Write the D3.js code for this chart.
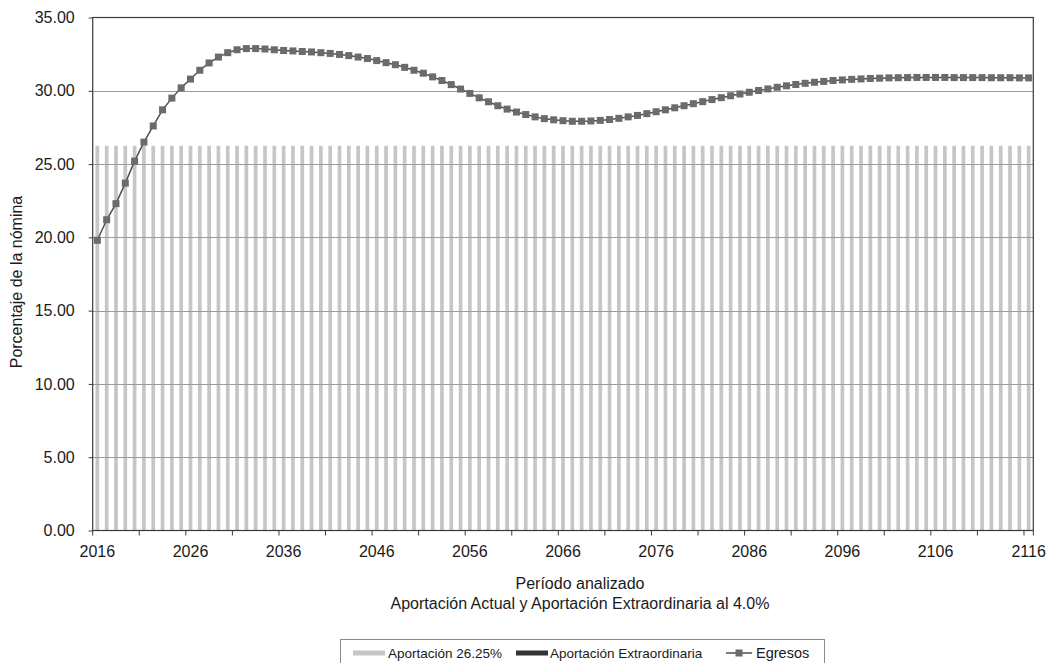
<!DOCTYPE html>
<html>
<head>
<meta charset="utf-8">
<script src="https://cdn.jsdelivr.net/npm/d3@7"></script>
<style>
  html, body { margin: 0; padding: 0; background: #ffffff; }
  svg { display: block; font-family: "Liberation Sans", Arial, sans-serif; }
</style>
</head>
<body>
<svg id="chart" width="1048" height="663"></svg>
<script>
// ---------- DATA ----------
const years = d3.range(2016, 2117);               // categories 2016 … 2116
const xTickLabels = [2016, 2026, 2036, 2046, 2056, 2066, 2076, 2086, 2096, 2106, 2116];
const yTickValues = [0, 5, 10, 15, 20, 25, 30, 35];

const aportacion = [
  26.25,26.25,26.25,26.25,26.25,26.25,26.25,26.25,26.25,26.25,
  26.25,26.25,26.25,26.25,26.25,26.25,26.25,26.25,26.25,26.25,
  26.25,26.25,26.25,26.25,26.25,26.25,26.25,26.25,26.25,26.25,
  26.25,26.25,26.25,26.25,26.25,26.25,26.25,26.25,26.25,26.25,
  26.25,26.25,26.25,26.25,26.25,26.25,26.25,26.25,26.25,26.25,
  26.25,26.25,26.25,26.25,26.25,26.25,26.25,26.25,26.25,26.25,
  26.25,26.25,26.25,26.25,26.25,26.25,26.25,26.25,26.25,26.25,
  26.25,26.25,26.25,26.25,26.25,26.25,26.25,26.25,26.25,26.25,
  26.25,26.25,26.25,26.25,26.25,26.25,26.25,26.25,26.25,26.25,
  26.25,26.25,26.25,26.25,26.25,26.25,26.25,26.25,26.25,26.25,
  26.25
];
const extraordinaria = [
  0,0,0,0,0,0,0,0,0,0, 0,0,0,0,0,0,0,0,0,0,
  0,0,0,0,0,0,0,0,0,0, 0,0,0,0,0,0,0,0,0,0,
  0,0,0,0,0,0,0,0,0,0, 0,0,0,0,0,0,0,0,0,0,
  0,0,0,0,0,0,0,0,0,0, 0,0,0,0,0,0,0,0,0,0,
  0,0,0,0,0,0,0,0,0,0, 0,0,0,0,0,0,0,0,0,0,
  0
];
const egresos = [
  19.80,21.20,22.30,23.70,25.20,26.50,27.60,28.70,29.50,30.20,
  30.80,31.40,31.90,32.30,32.60,32.80,32.88,32.88,32.85,32.80,
  32.75,32.72,32.68,32.65,32.60,32.55,32.48,32.40,32.30,32.20,
  32.06,31.92,31.78,31.60,31.40,31.20,30.95,30.70,30.42,30.12,
  29.82,29.52,29.25,28.98,28.75,28.55,28.38,28.22,28.10,28.02,
  27.96,27.92,27.92,27.94,27.98,28.04,28.12,28.22,28.32,28.44,
  28.57,28.70,28.84,28.98,29.12,29.26,29.40,29.53,29.66,29.78,
  29.90,30.02,30.13,30.24,30.34,30.43,30.51,30.58,30.64,30.70,
  30.74,30.78,30.81,30.84,30.86,30.88,30.89,30.90,30.91,30.91,
  30.91,30.91,30.90,30.90,30.90,30.90,30.89,30.89,30.89,30.88,
  30.88
];
const legendLabels = ["Aportación 26.25%", "Aportación Extraordinaria", "Egresos"];
const yTitle = "Porcentaje de la nómina";
const xTitle1 = "Período analizado";
const xTitle2 = "Aportación Actual y Aportación Extraordinaria al 4.0%";

// ---------- LAYOUT ----------
const pLeft = 92.7, pRight = 1033.3, pTop = 17.5, pBottom = 530.5;
const svg = d3.select("#chart");

const x = d3.scaleBand().domain(years).range([pLeft, pRight])
  .paddingInner(0.6).paddingOuter(0.3);
const step = x.step();
const y = d3.scaleLinear().domain([0, 35]).range([pBottom, pTop]);

const rows = years.map((yr, i) => ({ year: yr, a: aportacion[i], e: extraordinaria[i], g: egresos[i] }));

// bars (stacked)
const stack = d3.stack().keys(["a", "e"])(rows);
const barColors = { a: "#c6c6c6", e: "#333333" };
svg.append("g").selectAll("g").data(stack).join("g")
  .attr("fill", d => barColors[d.key])
  .selectAll("rect").data(d => d).join("rect")
  .attr("x", d => x(d.data.year))
  .attr("width", x.bandwidth())
  .attr("y", d => y(d[1]))
  .attr("height", d => Math.max(0, y(d[0]) - y(d[1])));

// gridlines
svg.append("g").selectAll("line").data(yTickValues.filter(v => v > 0 && v < 35)).join("line")
  .attr("x1", pLeft).attr("x2", pRight)
  .attr("y1", d => Math.round(y(d)) + 0.5).attr("y2", d => Math.round(y(d)) + 0.5)
  .attr("stroke", "#9a9a9a").attr("stroke-width", 1);

// border
svg.append("rect").attr("x", pLeft).attr("y", pTop)
  .attr("width", pRight - pLeft).attr("height", pBottom - pTop)
  .attr("fill", "none").attr("stroke", "#3a3a3a").attr("stroke-width", 1.2);

// Y axis
const yAxis = svg.append("g").attr("transform", `translate(${pLeft},0)`)
  .call(d3.axisLeft(y).tickValues(yTickValues).tickFormat(d3.format(".2f"))
    .tickSizeInner(4).tickSizeOuter(0).tickPadding(14));
yAxis.select(".domain").remove();
yAxis.selectAll("line").attr("stroke", "#3a3a3a");
yAxis.selectAll("text").attr("font-size", 16).attr("fill", "#1a1a1a")
  .attr("font-family", "'Liberation Sans', Arial, sans-serif");

// X axis labels
const xAxis = svg.append("g").attr("transform", `translate(0,${pBottom})`)
  .call(d3.axisBottom(x).tickValues(xTickLabels).tickSizeInner(0).tickSizeOuter(0).tickPadding(15));
xAxis.select(".domain").remove();
xAxis.selectAll("text").attr("font-size", 16).attr("fill", "#1a1a1a")
  .attr("font-family", "'Liberation Sans', Arial, sans-serif");

// X ticks at category boundaries every 5 years
const tickYears = years.filter((yr, i) => i % 5 === 0);
const tickPos = tickYears.map(yr => x(yr) - x.paddingInner() * step / 2).concat([pRight]);
svg.append("g").selectAll("line").data(tickPos).join("line")
  .attr("x1", d => d).attr("x2", d => d)
  .attr("y1", pBottom).attr("y2", pBottom + 5)
  .attr("stroke", "#3a3a3a");

// Egresos line
const cx = d => x(d.year) + x.bandwidth() / 2;
svg.append("path").datum(rows)
  .attr("fill", "none").attr("stroke", "#505050").attr("stroke-width", 1.5)
  .attr("d", d3.line().x(cx).y(d => y(d.g)));
const ms = 7;
svg.append("g").selectAll("rect").data(rows).join("rect")
  .attr("x", d => cx(d) - ms / 2).attr("y", d => y(d.g) - ms / 2)
  .attr("width", ms).attr("height", ms)
  .attr("fill", "#6b6b6b");

// Axis titles
svg.append("text").attr("transform", `translate(22,${(pTop + pBottom) / 2 + 8}) rotate(-90)`)
  .attr("text-anchor", "middle").attr("font-size", 16).attr("fill", "#1a1a1a")
  .text(yTitle);
svg.append("text").attr("x", 580).attr("y", 589).attr("text-anchor", "middle")
  .attr("font-size", 16).attr("fill", "#1a1a1a").text(xTitle1);
svg.append("text").attr("x", 580).attr("y", 609).attr("text-anchor", "middle")
  .attr("font-size", 16).attr("fill", "#1a1a1a").text(xTitle2);

// Legend
const lg = svg.append("g");
lg.append("rect").attr("x", 340.5).attr("y", 639.5).attr("width", 484).attr("height", 30)
  .attr("fill", "#fff").attr("stroke", "#8a8a8a");
const ly = 653;
lg.append("rect").attr("x", 353).attr("y", ly - 2.5).attr("width", 32).attr("height", 5).attr("fill", barColors.a);
lg.append("text").attr("x", 388).attr("y", ly + 5).attr("font-size", 13.5).attr("fill", "#1a1a1a").text(legendLabels[0]);
lg.append("rect").attr("x", 516).attr("y", ly - 2.5).attr("width", 32).attr("height", 5).attr("fill", barColors.e);
lg.append("text").attr("x", 550).attr("y", ly + 5).attr("font-size", 13.5).attr("fill", "#1a1a1a").text(legendLabels[1]);
lg.append("line").attr("x1", 726).attr("x2", 752).attr("y1", ly).attr("y2", ly).attr("stroke", "#505050").attr("stroke-width", 1.5);
lg.append("rect").attr("x", 739 - 3.5).attr("y", ly - 3.5).attr("width", 7).attr("height", 7).attr("fill", "#6b6b6b");
lg.append("text").attr("x", 756).attr("y", ly + 5).attr("font-size", 14.5).attr("fill", "#1a1a1a").text(legendLabels[2]);
</script>
</body>
</html>
